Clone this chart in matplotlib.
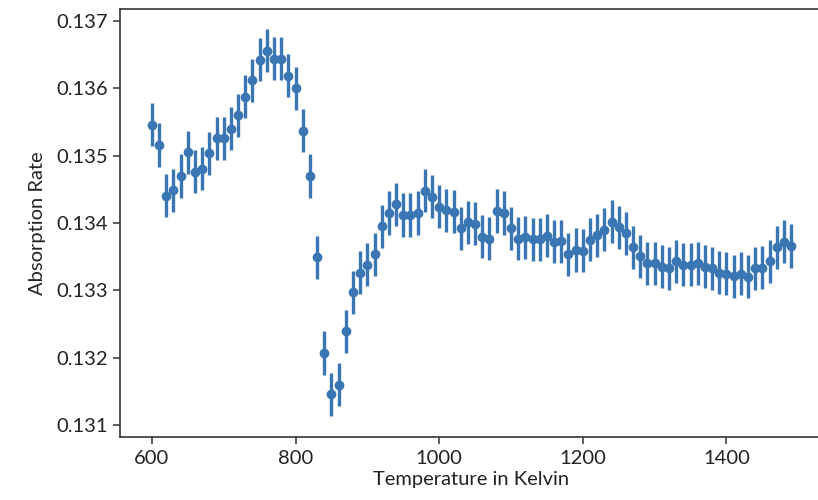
import matplotlib

matplotlib.use("Agg")
import matplotlib.pyplot as plt
import numpy as np

# temperatures in Kelvin, 600..1490 step 10
temperature = list(range(600, 1500, 10))

absorption = [
    0.13546, 0.13516, 0.13441, 0.13449, 0.13470, 0.13505, 0.13476, 0.13481, 0.13504, 0.13526,
    0.13526, 0.13540, 0.13560, 0.13588, 0.13612, 0.13643, 0.13656, 0.13644, 0.13644, 0.13619,
    0.13600, 0.13537, 0.13470, 0.13349, 0.13207, 0.13146, 0.13160, 0.13239, 0.13297, 0.13326,
    0.13338, 0.13354, 0.13395, 0.13415, 0.13428, 0.13412, 0.13412, 0.13415, 0.13448, 0.13439,
    0.13424, 0.13419, 0.13417, 0.13392, 0.13401, 0.13399, 0.13380, 0.13377, 0.13418, 0.13415,
    0.13392, 0.13377, 0.13379, 0.13376, 0.13376, 0.13381, 0.13372, 0.13373, 0.13354, 0.13360,
    0.13359, 0.13375, 0.13382, 0.13390, 0.13402, 0.13394, 0.13385, 0.13364, 0.13351, 0.13340,
    0.13340, 0.13335, 0.13333, 0.13343, 0.13338, 0.13338, 0.13340, 0.13335, 0.13333, 0.13326,
    0.13325, 0.13321, 0.13325, 0.13320, 0.13333, 0.13334, 0.13343, 0.13364, 0.13372, 0.13366,
]
absorption_err = 0.00032

plt.rcParams["font.family"] = ["Lato", "DejaVu Sans"]
plt.rcParams["font.size"] = 14.5
plt.rcParams["text.color"] = "#222222"

fig = plt.figure(figsize=(8.18, 5.0), dpi=100)
ax = fig.add_axes([120 / 818, 63 / 500, 703 / 818, 428 / 500])

ax.errorbar(
    temperature,
    absorption,
    yerr=absorption_err,
    fmt="o",
    color="#3a76b4",
    markersize=6,
    elinewidth=2.4,
)

ax.set_xlim(555.5, 1534.5)
ax.set_ylim(0.130822, 0.137181)
ax.set_xticks([600, 800, 1000, 1200, 1400])
ax.set_yticks(np.arange(0.131, 0.1375, 0.001))
ax.yaxis.set_major_formatter(matplotlib.ticker.FormatStrFormatter("%.3f"))

ax.set_xlabel("Temperature in Kelvin", fontsize=14.5, labelpad=3, color="#222222")
ax.set_ylabel("Absorption Rate", fontsize=14.5, labelpad=7, color="#222222")

for sp in ax.spines.values():
    sp.set_linewidth(1.2)
    sp.set_color("#333333")
ax.spines["right"].set_visible(False)
ax.tick_params(length=5, width=1.1, color="#333333", labelcolor="#222222",
               labelsize=14.5, pad=4)

fig.savefig("out.png", dpi=100)
